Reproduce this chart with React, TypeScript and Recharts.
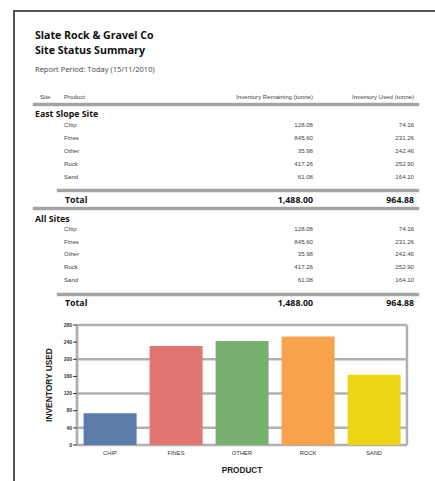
import { BarChart, Bar, Cell, XAxis, YAxis, CartesianGrid } from "recharts";

const products = ["Chip", "Fines", "Other", "Rock", "Sand"];
const remaining = [128.08, 845.6, 35.98, 417.26, 61.08];
const used = [74.16, 231.26, 242.46, 252.9, 164.1];
const sites = ["East Slope Site", "All Sites"];
const barColors = ["#5b7ba8", "#e07571", "#78b06f", "#f8a24c", "#ecd515"];
const yTicks = [0, 40, 80, 120, 160, 200, 240, 280];

const chartData = products.map((p, i) => ({ label: p.toUpperCase(), used: used[i] }));

const fmt = (v: number) =>
  v.toLocaleString("en-US", { minimumFractionDigits: 2, maximumFractionDigits: 2 });

const sum = (a: number[]) => a.reduce((s, v) => s + v, 0);

const SANS = "'Open Sans', 'Noto Sans', sans-serif";
const ARIAL = "'Liberation Sans', Arial, sans-serif";

function Txt({
  cy,
  lh = 10,
  left,
  right,
  style,
  children,
}: {
  cy: number;
  lh?: number;
  left?: number;
  right?: number;
  style?: React.CSSProperties;
  children: React.ReactNode;
}) {
  return (
    <div
      style={{
        position: "absolute",
        top: cy - lh / 2,
        left,
        right,
        lineHeight: lh + "px",
        height: lh,
        whiteSpace: "nowrap",
        ...style,
      }}
    >
      {children}
    </div>
  );
}

function Rule({ y, x1, x2 }: { y: number; x1: number; x2: number }) {
  return (
    <div
      style={{
        position: "absolute",
        top: y,
        left: x1,
        width: x2 - x1,
        height: 3,
        background: "#a3a3a3",
        boxShadow: "0 0 1.5px #999",
      }}
    />
  );
}

const rowStyle: React.CSSProperties = { fontFamily: ARIAL, fontSize: 6.1, color: "#444" };
const boldStyle: React.CSSProperties = { fontFamily: SANS, fontSize: 8.8, fontWeight: 700, color: "#111" };
const titleStyle: React.CSSProperties = { fontFamily: SANS, fontSize: 10.6, fontWeight: 700, color: "#111" };

function SiteBlock({ name, top, step, totalTop, lineTop }: { name: string; top: number; step: number; totalTop: number; lineTop: number }) {
  return (
    <>
      <Txt cy={top - 10.5} left={35} style={boldStyle}>
        {name}
      </Txt>
      {products.map((p, i) => (
        <div key={p}>
          <Txt cy={top + i * step} left={64} style={rowStyle}>
            {p}
          </Txt>
          <Txt cy={top + i * step} right={122} style={rowStyle}>
            {fmt(remaining[i])}
          </Txt>
          <Txt cy={top + i * step} right={21} style={rowStyle}>
            {fmt(used[i])}
          </Txt>
        </div>
      ))}
      <Rule y={lineTop} x1={57} x2={419} />
      <Txt cy={totalTop} left={65} style={boldStyle}>
        Total
      </Txt>
      <Txt cy={totalTop} right={122} style={boldStyle}>
        {fmt(sum(remaining))}
      </Txt>
      <Txt cy={totalTop} right={21} style={boldStyle}>
        {fmt(sum(used))}
      </Txt>
    </>
  );
}

export default function App() {
  return (
    <div
      style={{
        position: "absolute",
        left: 0,
        top: 0,
        width: 435,
        height: 481,
        background: "#fff",
        overflow: "hidden",
      }}
    >
      <div style={{ position: "absolute", left: 13, top: 10, width: 1.5, height: 471, background: "#555" }} />
      <div style={{ position: "absolute", left: 13, top: 10, width: 422, height: 1.5, background: "#555" }} />

      <Txt cy={35.3} lh={14.6} left={35} style={titleStyle}>
        Slate Rock &amp; Gravel Co
      </Txt>
      <Txt cy={50} lh={14.6} left={35} style={titleStyle}>
        Site Status Summary
      </Txt>
      <Txt cy={68.5} left={35} style={{ fontFamily: SANS, fontSize: 7.5, color: "#444" }}>
        Report Period: Today (15/11/2010)
      </Txt>

      <Txt cy={97} left={40} style={rowStyle}>
        Site
      </Txt>
      <Txt cy={97} left={64} style={rowStyle}>
        Product
      </Txt>
      <Txt cy={97} right={122} style={rowStyle}>
        Inventory Remaining (tonne)
      </Txt>
      <Txt cy={97} right={21} style={rowStyle}>
        Inventory Used (tonne)
      </Txt>
      <Rule y={103} x1={33} x2={419} />

      <SiteBlock name={sites[0]} top={124.5} step={13.1} lineTop={189} totalTop={199.5} />
      <Rule y={207} x1={33} x2={419} />
      <SiteBlock name={sites[1]} top={229} step={12.7} lineTop={293} totalTop={303} />

      <div style={{ position: "absolute", left: 0, top: 300 }}>
        <BarChart
          width={435}
          height={181}
          data={chartData}
          margin={{ top: 25, right: 28, bottom: 6, left: 30 }}
          barCategoryGap="10%"
        >
          <CartesianGrid
            stroke="#b0b0b0"
            strokeWidth={2.5}
            verticalCoordinatesGenerator={({ offset }: any) => [offset.left, offset.left + offset.width]}
          />
          <XAxis
            dataKey="label"
            axisLine={false}
            tickLine={false}
            height={30}
            tickSize={4}
            tickMargin={2}
            tick={{ fontSize: 5.8, fill: "#333", fontFamily: ARIAL }}
            label={{
              content: ({ viewBox }: any) => (
                <text
                  x={viewBox.x + viewBox.width / 2}
                  y={viewBox.y + viewBox.height - 5}
                  textAnchor="middle"
                  dominantBaseline="central"
                  fontFamily={ARIAL}
                  fontWeight="bold"
                  fontSize={8.2}
                  fill="#222"
                >
                  PRODUCT
                </text>
              ),
            }}
          />
          <YAxis
            domain={[0, 280]}
            ticks={yTicks}
            width={47}
            axisLine={{ stroke: "#b0b0b0", strokeWidth: 2.5 }}
            tickLine={{ stroke: "#333" }}
            tickSize={4}
            tickMargin={1}
            tick={{ fontSize: 5, fontWeight: "bold", fill: "#333", fontFamily: ARIAL }}
            label={{
              content: ({ viewBox }: any) => {
                const x = viewBox.x + 19;
                const y = viewBox.y + viewBox.height / 2;
                return (
                  <text
                    x={x}
                    y={y}
                    transform={`rotate(-90 ${x} ${y})`}
                    textAnchor="middle"
                    dominantBaseline="central"
                    fontFamily={ARIAL}
                    fontWeight="bold"
                    fontSize={8.4}
                    fill="#222"
                  >
                    INVENTORY USED
                  </text>
                );
              },
            }}
          />
          <Bar dataKey="used" isAnimationActive={false}>
            {chartData.map((d, i) => (
              <Cell key={d.label} fill={barColors[i]} />
            ))}
          </Bar>
        </BarChart>
      </div>
    </div>
  );
}
